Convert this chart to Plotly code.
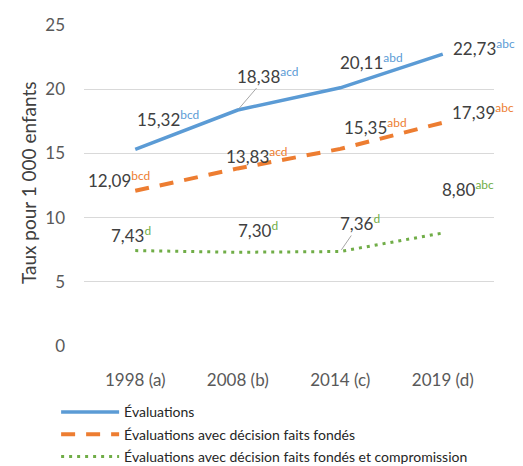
import plotly.graph_objects as go

categories = ["1998 (a)", "2008 (b)", "2014 (c)", "2019 (d)"]
evaluations = [15.32, 18.38, 20.11, 22.73]
faits_fondes = [12.09, 13.83, 15.35, 17.39]
compromission = [7.43, 7.30, 7.36, 8.80]
sup_eval = ["bcd", "acd", "abd", "abc"]
sup_ff = ["bcd", "acd", "abd", "abc"]
sup_comp = ["d", "d", "d", "abc"]
names = ["Évaluations",
         "Évaluations avec décision faits fondés",
         "Évaluations avec décision faits fondés et compromission"]
y_title = "Taux pour 1 000 enfants"

BLUE = "#5B9BD5"
ORANGE = "#ED7D31"
GREEN = "#70AD47"
TXT = "#404040"
FONT = "Lato, sans-serif"

fig = go.Figure()
fig.add_trace(go.Scatter(x=categories, y=evaluations, mode="lines", name=names[0],
                         legendgroup="g1", line=dict(color=BLUE, width=3.5)))
fig.add_trace(go.Scatter(x=categories, y=faits_fondes, mode="lines", name=names[1],
                         legendgroup="g2", line=dict(color=ORANGE, width=4, dash="14px,11px")))
fig.add_trace(go.Scatter(x=categories, y=compromission, mode="lines", name=names[2],
                         legendgroup="g3", line=dict(color=GREEN, width=3, dash="3px,5px")))

def fmt(v):
    return f"{v:.2f}".replace(".", ",")

off_eval = [(33, 31), (30, 35), (31, 26), (41, 7)]
off_ff = [(-16, 11), (19, 13), (35, 22), (40, 11)]
off_comp = [(-4, 16), (20, 23), (20, 29), (25, 45)]
arrows_eval = [False, True, False, False]
arrows_comp = [False, False, True, False]

def add_labels(vals, sups, color, offs, arrows=None):
    for i, (c, v, s, (dx, dy)) in enumerate(zip(categories, vals, sups, offs)):
        txt = f"{fmt(v)}<sup><span style='color:{color}'>{s}</span></sup>"
        if arrows and arrows[i]:
            fig.add_annotation(x=c, y=v, text=txt, showarrow=True, arrowhead=0,
                               arrowcolor="#A6A6A6", arrowwidth=1, ax=dx, ay=-dy,
                               standoff=2, font=dict(family=FONT, size=17, color=TXT))
        else:
            fig.add_annotation(x=c, y=v, text=txt, showarrow=False, xshift=dx, yshift=dy,
                               font=dict(family=FONT, size=17, color=TXT))

add_labels(evaluations, sup_eval, BLUE, off_eval, arrows_eval)
add_labels(faits_fondes, sup_ff, ORANGE, off_ff)
add_labels(compromission, sup_comp, GREEN, off_comp, arrows_comp)

fig.add_annotation(xref="paper", yref="paper", x=-0.137, y=0.51, text=y_title,
                   textangle=-90, showarrow=False, xanchor="center", yanchor="middle",
                   font=dict(family=FONT, size=19, color=TXT))

fig.update_layout(
    width=523, height=466,
    margin=dict(l=84, r=29, t=25, b=120, autoexpand=False),
    paper_bgcolor="white", plot_bgcolor="white",
    font=dict(family=FONT, color=TXT),
    xaxis=dict(type="category", range=[-0.5, 3.5], showgrid=False, showline=False,
               ticks="", automargin=False, ticklabelstandoff=22,
               tickfont=dict(size=17, color="#595959")),
    yaxis=dict(range=[0, 25], dtick=5, showgrid=True, gridcolor="#D9D9D9", gridwidth=1,
               zeroline=False, showline=False, ticks="", automargin=False,
               ticklabelstandoff=18,
               tickfont=dict(size=17, color="#595959")),
    legend=dict(orientation="v", x=-0.068, xanchor="left", y=-0.157, yanchor="top",
                font=dict(size=14, color="#262626", family=FONT),
                itemwidth=58, traceorder="grouped", tracegroupgap=1,
                bgcolor="rgba(0,0,0,0)"),
    showlegend=True,
)

fig.write_html("out.html", config={"displayModeBar": False},
               post_script="document.body.style.margin='0';document.body.style.overflow='hidden';")
